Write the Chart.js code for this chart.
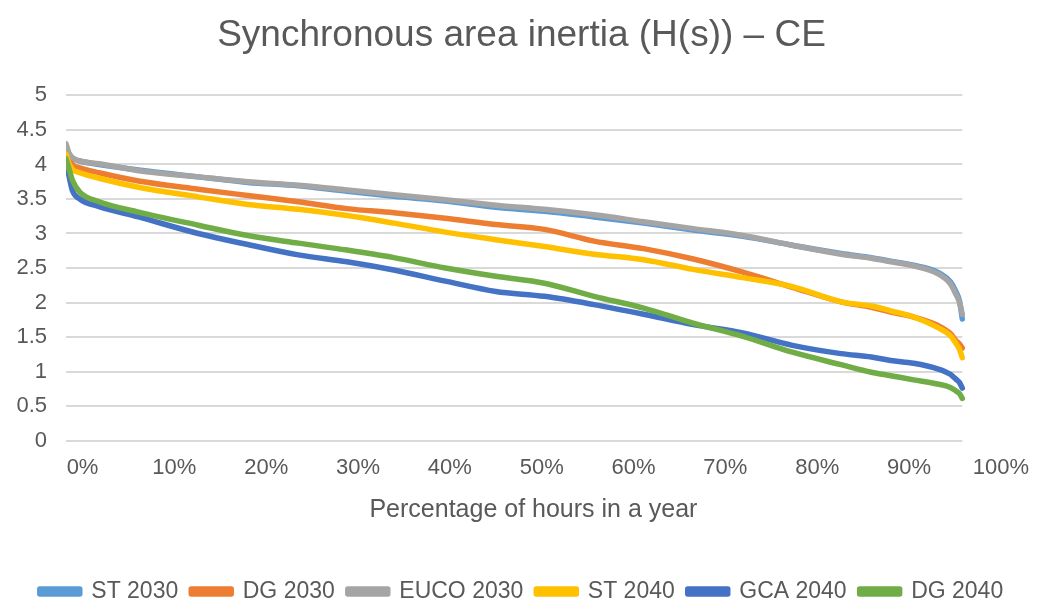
<!DOCTYPE html>
<html>
<head>
<meta charset="utf-8">
<script src="https://cdn.jsdelivr.net/npm/chart.js@4.4.0/dist/chart.umd.min.js"></script>
<style>
  html, body { margin: 0; padding: 0; background: #fff; }
  #wrap { width: 1043px; height: 603px; }
</style>
</head>
<body>
<div id="wrap"><canvas id="myChart"></canvas></div>
<script>
// percentage of hours in a year (x position of each read-off point)
var hoursPct = [-1.8, -1.5, -1.1, -0.3, 1.8, 6.1, 12.6, 18.0, 23.5, 28.8, 33.9, 39.5, 45.0, 50.3,
                55.7, 61.1, 66.5, 71.9, 77.3, 82.6, 85.9, 88.0, 90.5, 93.1, 94.5, 95.1, 95.5, 95.8];

var st2030   = [4.28, 4.16, 4.09, 4.05, 4.00, 3.92, 3.82, 3.74, 3.69, 3.61, 3.54, 3.47, 3.38, 3.32,
                3.24, 3.15, 3.05, 2.96, 2.83, 2.71, 2.65, 2.60, 2.54, 2.44, 2.30, 2.16, 2.02, 1.76];
var dg2030   = [4.23, 4.10, 4.00, 3.95, 3.88, 3.76, 3.64, 3.55, 3.46, 3.36, 3.30, 3.22, 3.13, 3.06,
                2.89, 2.78, 2.63, 2.44, 2.22, 2.01, 1.93, 1.86, 1.79, 1.67, 1.55, 1.45, 1.40, 1.34];
var euco2030 = [4.30, 4.17, 4.10, 4.05, 4.01, 3.91, 3.82, 3.75, 3.70, 3.63, 3.56, 3.49, 3.41, 3.35,
                3.27, 3.17, 3.07, 2.97, 2.83, 2.70, 2.64, 2.59, 2.53, 2.42, 2.27, 2.12, 2.00, 1.83];
var st2040   = [4.15, 4.02, 3.93, 3.88, 3.80, 3.67, 3.53, 3.42, 3.35, 3.26, 3.15, 3.02, 2.91, 2.81,
                2.70, 2.62, 2.48, 2.36, 2.23, 2.01, 1.95, 1.88, 1.79, 1.64, 1.52, 1.41, 1.32, 1.20];
var gca2040  = [4.05, 3.85, 3.62, 3.50, 3.39, 3.24, 3.00, 2.84, 2.69, 2.59, 2.47, 2.31, 2.16, 2.09,
                1.97, 1.83, 1.68, 1.56, 1.38, 1.26, 1.21, 1.16, 1.12, 1.04, 0.96, 0.89, 0.84, 0.76];
var dg2040   = [4.08, 3.95, 3.77, 3.60, 3.46, 3.31, 3.12, 2.97, 2.86, 2.76, 2.65, 2.50, 2.38, 2.28,
                2.09, 1.92, 1.70, 1.51, 1.28, 1.10, 0.99, 0.94, 0.88, 0.82, 0.77, 0.72, 0.68, 0.61];

var seriesNames = ["ST 2030", "DG 2030", "EUCO 2030", "ST 2040", "GCA 2040", "DG 2040"];
var seriesValues = [st2030, dg2030, euco2030, st2040, gca2040, dg2040];
var seriesColors = ["#5B9BD5", "#ED7D31", "#A5A5A5", "#FFC000", "#4472C4", "#70AD47"];

var xTicks = [0, 10, 20, 30, 40, 50, 60, 70, 80, 90, 100];

var textColor = "#595959";
var fontFam = "'Liberation Sans', Arial, sans-serif";

function toPoints(vals) {
    var pts = [];
    for (var i = 0; i < vals.length; i++) {
        pts.push({ x: hoursPct[i], y: vals[i] });
    }
    return pts;
}

var datasets = [];
for (var i = 0; i < seriesNames.length; i++) {
    datasets.push({
        label: seriesNames[i],
        data: toPoints(seriesValues[i]),
        borderColor: seriesColors[i],
        backgroundColor: seriesColors[i],
        borderWidth: 5.5,
        borderCapStyle: "round",
        borderJoinStyle: "round",
        pointRadius: 0,
        cubicInterpolationMode: "monotone",
        order: seriesNames.length - i  // later series drawn on top, like Excel
    });
}

// horizontal gridlines only across the data range
var gridPlugin = {
    id: "hgrid",
    beforeDatasetsDraw: function(chart) {
        var ctx = chart.ctx;
        var y = chart.scales.y;
        var x = chart.scales.x;
        var x0 = chart.chartArea.left;
        var x1 = x.getPixelForValue(hoursPct[hoursPct.length - 1]);
        ctx.save();
        ctx.strokeStyle = "#D9D9D9";
        ctx.lineWidth = 2;
        y.ticks.forEach(function(t) {
            var py = Math.round(y.getPixelForValue(t.value));
            ctx.beginPath();
            ctx.moveTo(x0, py);
            ctx.lineTo(x1, py);
            ctx.stroke();
        });
        ctx.restore();
    }
};

var ctx = document.getElementById("myChart");

var myChart = new Chart(ctx, {
    type: "line",
    data: { datasets: datasets },
    plugins: [gridPlugin],
    options: {
        responsive: true,
        maintainAspectRatio: false,
        animation: false,
        layout: { padding: { left: 0, right: 0, top: 0, bottom: -10 } },
        plugins: {
            title: {
                display: true,
                text: "Synchronous area inertia (H(s)) \u2013 CE",
                color: textColor,
                font: { family: fontFam, size: 37, weight: "normal" },
                padding: { top: 14, bottom: 37 }
            },
            legend: {
                position: "bottom",
                labels: {
                    color: textColor,
                    font: { family: fontFam, size: 23 },
                    boxWidth: 40,
                    boxHeight: 5,
                    padding: 13,
                    sort: function(a, b) { return a.datasetIndex - b.datasetIndex; }
                }
            },
            tooltip: { enabled: false }
        },
        scales: {
            x: {
                type: "linear",
                min: hoursPct[0],
                max: 100,
                grid: { display: false, drawTicks: false },
                border: { display: false },
                afterBuildTicks: function(scale) {
                    scale.ticks = xTicks.map(function(v) { return { value: v }; });
                },
                ticks: {
                    color: textColor,
                    font: { family: fontFam, size: 22 },
                    padding: 14,
                    maxRotation: 0,
                    autoSkip: false,
                    callback: function(v) { return v + "%"; }
                },
                title: {
                    display: true,
                    text: "Percentage of hours in a year",
                    color: textColor,
                    font: { family: fontFam, size: 25 },
                    padding: { top: 0, bottom: 42 }
                }
            },
            y: {
                min: 0,
                max: 5,
                grid: { display: false, drawTicks: false },
                border: { display: false },
                afterFit: function(scale) { scale.width = 66; },
                ticks: {
                    stepSize: 0.5,
                    color: textColor,
                    font: { family: fontFam, size: 22 },
                    padding: 19,
                    callback: function(v) { return String(v); }
                }
            },
            // empty right-hand margin so the last "100%" label has room
            yRight: {
                position: "right",
                grid: { display: false, drawTicks: false },
                border: { display: false },
                ticks: { display: false },
                afterFit: function(scale) { scale.width = 32; }
            }
        }
    }
});
</script>
</body>
</html>
